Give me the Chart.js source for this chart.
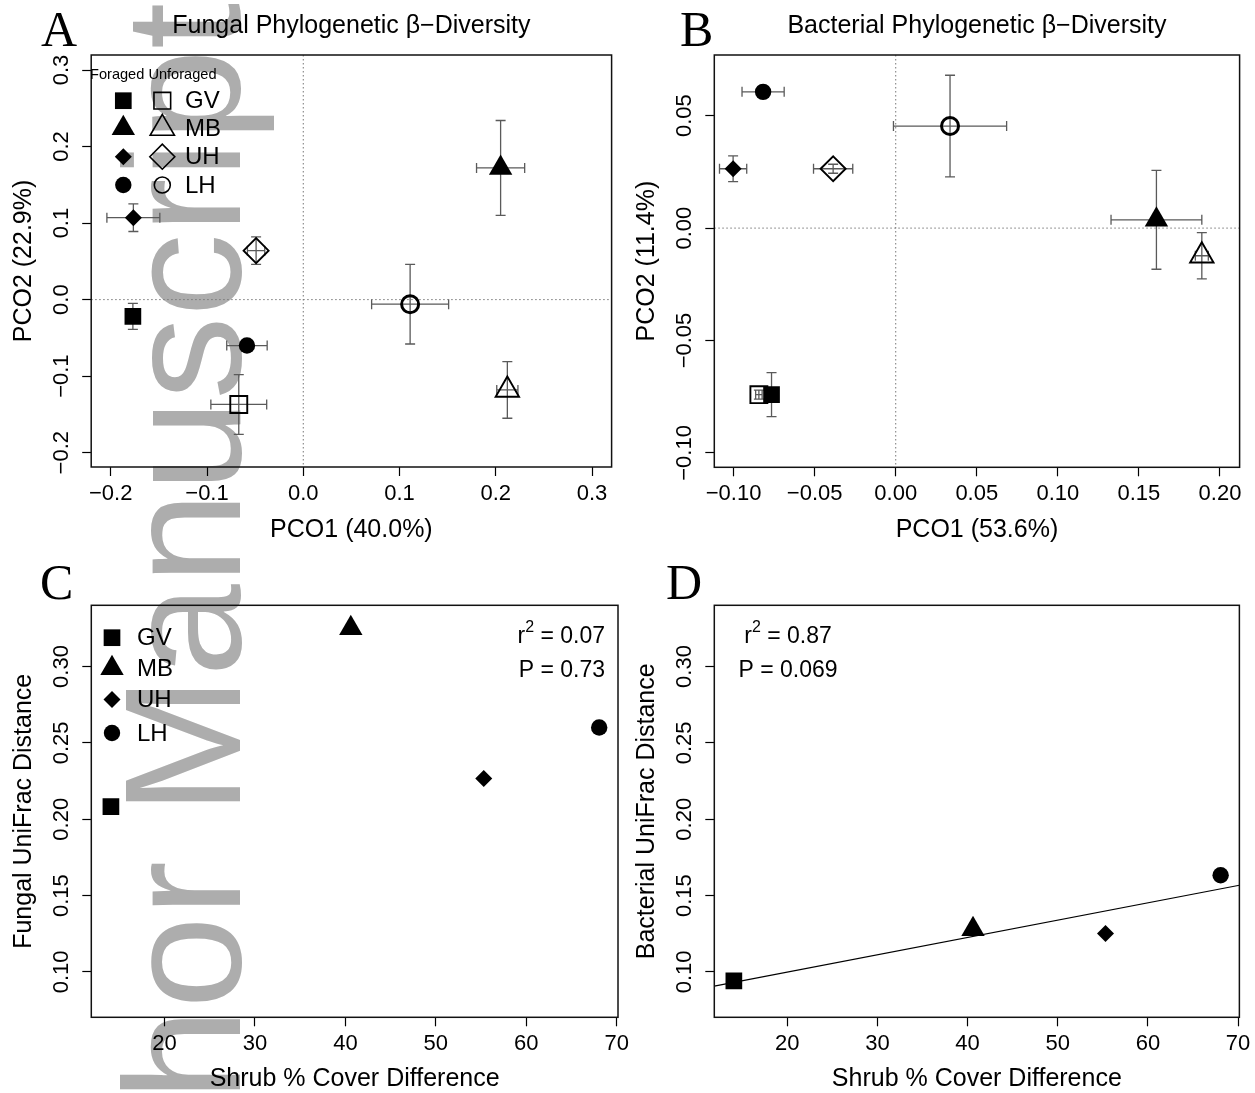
<!DOCTYPE html>
<html>
<head>
<meta charset="utf-8">
<title>Phylogenetic beta-diversity</title>
<script src="https://cdn.jsdelivr.net/npm/chart.js"></script>
<style>
  html, body { margin: 0; padding: 0; background: #fff; }
  #page { position: relative; width: 1255px; height: 1093px; overflow: hidden; background: #fff; }
  #page canvas { position: absolute; z-index: 1; }
  .watermark {
    position: absolute; left: 99.5px; top: 1349.6px; z-index: 0;
    transform-origin: 0 0; transform: rotate(-90deg);
    font-family: "Liberation Sans", Arial, sans-serif; font-size: 166px; line-height: 1;
    color: #adadad; white-space: nowrap;
  }
  .panel-letter {
    position: absolute; z-index: 2;
    font-family: "Liberation Serif", "Times New Roman", serif; font-size: 50px; line-height: 1; color: #000;
  }
</style>
</head>
<body>
<div id="page">
  <div class="watermark">Author Manuscript</div>
  <canvas id="chartA" width="627" height="548" style="left:0;top:0"></canvas>
  <canvas id="chartB" width="628" height="548" style="left:627px;top:0"></canvas>
  <canvas id="chartC" width="640" height="560" style="left:0;top:548px"></canvas>
  <canvas id="chartD" width="628" height="560" style="left:627px;top:548px"></canvas>
  <div class="panel-letter" style="left:41px;top:4px">A</div>
  <div class="panel-letter" style="left:680px;top:4px">B</div>
  <div class="panel-letter" style="left:40px;top:557px">C</div>
  <div class="panel-letter" style="left:666px;top:557px">D</div>
</div>
<script>
const SANS = '"Liberation Sans", Arial, Helvetica, sans-serif';

const sites = ["GV", "MB", "UH", "LH"];
const siteShapes = ["rect", "triangle", "rectRot", "circle"];

// A: fungal PCO scores (site means +/- se)
const fungForagedX      = [-0.177, 0.205, -0.1765, -0.0585];
const fungForagedY      = [-0.022, 0.172, 0.107, -0.060];
const fungForagedXErr   = [0.000, 0.025, 0.0275, 0.021];
const fungForagedYErr   = [0.017, 0.062, 0.018, 0.000];
const fungUnforagedX    = [-0.067, 0.212, -0.049, 0.111];
const fungUnforagedY    = [-0.137, -0.118, 0.064, -0.006];
const fungUnforagedXErr = [0.029, 0.011, 0.009, 0.040];
const fungUnforagedYErr = [0.039, 0.037, 0.018, 0.052];

// B: bacterial PCO scores
const bactForagedX      = [-0.0766, 0.1608, -0.1003, -0.0818];
const bactForagedY      = [-0.0741, 0.0037, 0.0264, 0.0606];
const bactForagedXErr   = [0.002, 0.028, 0.0084, 0.013];
const bactForagedYErr   = [0.0098, 0.022, 0.0057, 0.0015];
const bactUnforagedX    = [-0.0844, 0.1888, -0.0386, 0.0335];
const bactUnforagedY    = [-0.0741, -0.0123, 0.0264, 0.0454];
const bactUnforagedXErr = [0.002, 0.004, 0.0121, 0.0349];
const bactUnforagedYErr = [0.002, 0.0103, 0.002, 0.0226];

// C, D: distance vs shrub cover difference
const shrubCoverDiff   = [14.07, 40.6, 55.3, 68.07];
const fungalUniFrac    = [0.2082, 0.325, 0.2266, 0.2601];
const bacterialUniFrac = [0.0942, 0.128, 0.1252, 0.1633];
const fungStats = ["0.07", "0.73"];
const bactStats = ["0.87", "0.069"];

// tick labels
const fungTicksX = [-0.2, -0.1, 0.0, 0.1, 0.2, 0.3];
const fungTicksY = [-0.2, -0.1, 0.0, 0.1, 0.2, 0.3];
const bactTicksX = [-0.10, -0.05, 0.00, 0.05, 0.10, 0.15, 0.20];
const bactTicksY = [-0.10, -0.05, 0.00, 0.05];
const coverTicks = [20, 30, 40, 50, 60, 70];
const distTicks  = [0.10, 0.15, 0.20, 0.25, 0.30];

// marker sizes
const filledR = [11.8, 13.5, 8.5, 8.2];
const openR = [12, 13.5, 12.5, 8.5];
const openW = [1.9, 1.9, 1.9, 3];

const TICK_SIZE = 22;
const LAB_SIZE = 25;

function fmt(v, dec) {
  if (Math.abs(v) < 1e-9) v = 0;
  const s = Math.abs(v).toFixed(dec);
  return v < 0 ? "\u2212" + s : s;
}

const measureCtx = document.createElement("canvas").getContext("2d");
function widestLabel(ticks, dec) {
  measureCtx.font = TICK_SIZE + "px " + SANS;
  return Math.max(...ticks.map(v => measureCtx.measureText(fmt(v, dec)).width));
}

function drawSymbol(ctx, shape, x, y, r, filled, lw) {
  ctx.beginPath();
  if (shape === "rect") {
    const h = r * Math.SQRT1_2;
    ctx.rect(x - h, y - h, 2 * h, 2 * h);
  } else if (shape === "rectRot") {
    ctx.moveTo(x - r, y); ctx.lineTo(x, y - r); ctx.lineTo(x + r, y); ctx.lineTo(x, y + r);
    ctx.closePath();
  } else if (shape === "triangle") {
    for (let k = 0; k < 3; k++) {
      const a = k * 2 * Math.PI / 3;
      const px = x + Math.sin(a) * r, py = y - Math.cos(a) * r;
      if (k === 0) ctx.moveTo(px, py); else ctx.lineTo(px, py);
    }
    ctx.closePath();
  } else {
    ctx.arc(x, y, r, 0, Math.PI * 2);
  }
  if (filled) { ctx.fillStyle = "#000"; ctx.fill(); }
  else { ctx.lineWidth = lw; ctx.strokeStyle = "#000"; ctx.stroke(); }
}

function pcoDatasets(fx, fy, fxe, fye, ux, uy, uxe, uye) {
  const pts = (x, y, xe, ye) => x.map((v, i) => ({ x: v, y: y[i], xErr: xe[i], yErr: ye[i] }));
  return [
    { label: "Foraged", data: pts(fx, fy, fxe, fye), pointStyle: siteShapes, pointRadius: filledR,
      pointBackgroundColor: "#000", pointBorderColor: "#000", pointBorderWidth: 0 },
    { label: "Unforaged", data: pts(ux, uy, uxe, uye), pointStyle: siteShapes, pointRadius: openR,
      pointBackgroundColor: "rgba(0,0,0,0)", pointBorderColor: "#000", pointBorderWidth: openW }
  ];
}

function distDataset(ys) {
  return { label: "Distance", data: shrubCoverDiff.map((v, i) => ({ x: v, y: ys[i] })),
    pointStyle: siteShapes, pointRadius: filledR,
    pointBackgroundColor: "#000", pointBorderColor: "#000", pointBorderWidth: 0 };
}

function fitLine(xs, ys) {
  const n = xs.length;
  const mx = xs.reduce((a, b) => a + b, 0) / n, my = ys.reduce((a, b) => a + b, 0) / n;
  let sxy = 0, sxx = 0;
  xs.forEach((x, i) => { sxy += (x - mx) * (ys[i] - my); sxx += (x - mx) * (x - mx); });
  const slope = sxy / sxx;
  return { slope, intercept: my - slope * mx };
}

// error bars drawn under the markers
const errorBars = {
  id: "errorBars",
  beforeDatasetsDraw(chart) {
    const { ctx, scales: { x, y } } = chart;
    const cap = 5;
    ctx.save();
    ctx.strokeStyle = "#5a5a5a";
    ctx.lineWidth = 1.3;
    chart.data.datasets.forEach(ds => ds.data.forEach(p => {
      if (p.xErr === undefined) return;
      const px = x.getPixelForValue(p.x), py = y.getPixelForValue(p.y);
      ctx.beginPath();
      if (p.xErr > 0) {
        const x0 = x.getPixelForValue(p.x - p.xErr), x1 = x.getPixelForValue(p.x + p.xErr);
        ctx.moveTo(x0, py); ctx.lineTo(x1, py);
        ctx.moveTo(x0, py - cap); ctx.lineTo(x0, py + cap);
        ctx.moveTo(x1, py - cap); ctx.lineTo(x1, py + cap);
      }
      if (p.yErr > 0) {
        const y0 = y.getPixelForValue(p.y - p.yErr), y1 = y.getPixelForValue(p.y + p.yErr);
        ctx.moveTo(px, y0); ctx.lineTo(px, y1);
        ctx.moveTo(px - cap, y0); ctx.lineTo(px + cap, y0);
        ctx.moveTo(px - cap, y1); ctx.lineTo(px + cap, y1);
      }
      ctx.stroke();
    }));
    ctx.restore();
  }
};

const zeroLines = {
  id: "zeroLines",
  beforeDatasetsDraw(chart) {
    const { ctx, chartArea: a, scales: { x, y } } = chart;
    const x0 = x.getPixelForValue(0), y0 = y.getPixelForValue(0);
    ctx.save();
    ctx.strokeStyle = "#777";
    ctx.lineWidth = 1;
    ctx.setLineDash([1.5, 2.5]);
    ctx.beginPath();
    ctx.moveTo(x0, a.top); ctx.lineTo(x0, a.bottom);
    ctx.moveTo(a.left, y0); ctx.lineTo(a.right, y0);
    ctx.stroke();
    ctx.restore();
  }
};

const frame = {
  id: "frame",
  afterDatasetsDraw(chart) {
    const { ctx, chartArea: a } = chart;
    ctx.save();
    ctx.strokeStyle = "#111";
    ctx.lineWidth = 1.5;
    ctx.strokeRect(a.left, a.top, a.right - a.left, a.bottom - a.top);
    ctx.restore();
  }
};

const legendA = {
  id: "legendA",
  afterDraw(chart) {
    const ctx = chart.ctx;
    const rows = [100.7, 128.3, 156.7, 185];
    const legendOpenR = [11.8, 14, 12.5, 8];
    ctx.save();
    ctx.fillStyle = "#000";
    ctx.font = "14.6px " + SANS;
    ctx.textBaseline = "alphabetic";
    ctx.fillText("Foraged Unforaged", 90, 79);
    ctx.font = "24px " + SANS;
    ctx.textBaseline = "middle";
    sites.forEach((s, i) => {
      drawSymbol(ctx, siteShapes[i], 123.3, rows[i], filledR[i], true, 0);
      drawSymbol(ctx, siteShapes[i], 162.3, rows[i], legendOpenR[i], false, 1.6);
      ctx.fillStyle = "#000";
      ctx.fillText(s, 185, rows[i] + 1);
    });
    ctx.restore();
  }
};

const legendC = {
  id: "legendC",
  afterDraw(chart) {
    const ctx = chart.ctx;
    const rows = [89.7, 120.3, 151.6, 185];
    ctx.save();
    ctx.font = "24px " + SANS;
    ctx.textBaseline = "middle";
    sites.forEach((s, i) => {
      drawSymbol(ctx, siteShapes[i], 112, rows[i], filledR[i], true, 0);
      ctx.fillStyle = "#000";
      ctx.fillText(s, 137, rows[i] + 1);
    });
    ctx.restore();
  }
};

function statsPlugin(vals, x, align) {
  return {
    id: "stats",
    afterDraw(chart) {
      const ctx = chart.ctx;
      const main = "23px " + SANS, sup = "16px " + SANS;
      const lines = [
        [{ t: "r", f: main, dy: 0 }, { t: "2", f: sup, dy: -9 }, { t: " = " + vals[0], f: main, dy: 0 }],
        [{ t: "P = " + vals[1], f: main, dy: 0 }]
      ];
      const rowsY = [89, 122.5];
      ctx.save();
      ctx.fillStyle = "#000";
      ctx.textBaseline = "middle";
      lines.forEach((parts, li) => {
        let w = 0;
        parts.forEach(p => { ctx.font = p.f; w += ctx.measureText(p.t).width; });
        let cx = align === "right" ? x - w : align === "center" ? x - w / 2 : x;
        parts.forEach(p => {
          ctx.font = p.f;
          ctx.fillText(p.t, cx, rowsY[li] + p.dy);
          cx += ctx.measureText(p.t).width;
        });
      });
      ctx.restore();
    }
  };
}

const tickGrid = { display: true, drawOnChartArea: false, drawTicks: true, tickLength: 9, tickColor: "#000", tickWidth: 1.2 };
const Y_LABEL_GAP = 29.5;

function makeChart(id, cfg) {
  const canvas = document.getElementById(id);
  const W = canvas.width, H = canvas.height;
  const a = cfg.area;
  const yPad = Y_LABEL_GAP - 9 - widestLabel(cfg.yTicks, cfg.yDec) / 2;
  const xPad = 26.9 - 9 - TICK_SIZE * 0.6;
  return new Chart(canvas, {
    type: "scatter",
    data: { datasets: cfg.datasets },
    options: {
      responsive: false,
      animation: false,
      devicePixelRatio: 1,
      events: [],
      layout: { padding: { left: 0, right: W - a.right, top: cfg.title ? 0 : a.top, bottom: 0 } },
      plugins: {
        legend: { display: false },
        tooltip: { enabled: false },
        title: cfg.title ? {
          display: true, text: cfg.title, fullSize: false, color: "#000",
          font: { family: SANS, size: 25, weight: "normal" },
          padding: { top: 11, bottom: a.top - 11 - 30 }
        } : { display: false }
      },
      scales: {
        x: {
          type: "linear", position: "bottom",
          min: cfg.xRange[0], max: cfg.xRange[1],
          afterBuildTicks: s => { s.ticks = cfg.xTicks.map(v => ({ value: v })); },
          afterFit: s => { s.height = H - a.bottom; },
          ticks: {
            font: { family: SANS, size: TICK_SIZE }, color: "#000", padding: xPad,
            minRotation: 0, maxRotation: 0, autoSkip: false,
            callback: v => fmt(v, cfg.xDec)
          },
          grid: tickGrid,
          border: { display: false },
          title: {
            display: true, text: cfg.xTitle, color: "#000",
            font: { family: SANS, size: LAB_SIZE },
            padding: { top: 0, bottom: H - cfg.xTitleY - LAB_SIZE * 0.6 }
          }
        },
        y: {
          type: "linear", position: "left",
          min: cfg.yRange[0], max: cfg.yRange[1],
          afterBuildTicks: s => { s.ticks = cfg.yTicks.map(v => ({ value: v })); },
          afterFit: s => { s.width = a.left; },
          ticks: {
            font: { family: SANS, size: TICK_SIZE }, color: "#000", padding: yPad,
            minRotation: 90, maxRotation: 90, crossAlign: "center", autoSkip: false,
            callback: v => fmt(v, cfg.yDec)
          },
          grid: tickGrid,
          border: { display: false },
          title: {
            display: true, text: cfg.yTitle, color: "#000",
            font: { family: SANS, size: LAB_SIZE },
            padding: { top: a.left - 67 - LAB_SIZE * 0.6, bottom: 0 }
          }
        }
      }
    },
    plugins: [errorBars, frame].concat(cfg.extra || [])
  });
}

// A
makeChart("chartA", {
  title: "Fungal Phylogenetic \u03B2\u2212Diversity",
  area: { left: 91.2, right: 619, top: 55, bottom: 467 },
  xRange: [-0.2203, 0.3203], yRange: [-0.2187, 0.3196],
  xTicks: fungTicksX, yTicks: fungTicksY, xDec: 1, yDec: 1,
  xTitle: "PCO1 (40.0%)", yTitle: "PCO2 (22.9%)", xTitleY: 530,
  datasets: pcoDatasets(fungForagedX, fungForagedY, fungForagedXErr, fungForagedYErr,
    fungUnforagedX, fungUnforagedY, fungUnforagedXErr, fungUnforagedYErr),
  extra: [zeroLines, legendA]
});

// B
makeChart("chartB", {
  title: "Bacterial Phylogenetic \u03B2\u2212Diversity",
  area: { left: 87.3, right: 614, top: 55, bottom: 467.3 },
  xRange: [-0.1119, 0.2121], yRange: [-0.1064, 0.0770],
  xTicks: bactTicksX, yTicks: bactTicksY, xDec: 2, yDec: 2,
  xTitle: "PCO1 (53.6%)", yTitle: "PCO2 (11.4%)", xTitleY: 530,
  datasets: pcoDatasets(bactForagedX, bactForagedY, bactForagedXErr, bactForagedYErr,
    bactUnforagedX, bactUnforagedY, bactUnforagedXErr, bactUnforagedYErr),
  extra: [zeroLines]
});

const coverRange = [11.9, 70.15];
const distRange = [0.0703, 0.3401];

// C
makeChart("chartC", {
  area: { left: 91.3, right: 618, top: 57.3, bottom: 469.3 },
  xRange: coverRange, yRange: distRange,
  xTicks: coverTicks, yTicks: distTicks, xDec: 0, yDec: 2,
  xTitle: "Shrub % Cover Difference", yTitle: "Fungal UniFrac Distance", xTitleY: 531.5,
  datasets: [distDataset(fungalUniFrac)],
  extra: [legendC, statsPlugin(fungStats, 605, "right")]
});

// D
const bactFit = fitLine(shrubCoverDiff, bacterialUniFrac);
makeChart("chartD", {
  area: { left: 87.3, right: 614, top: 57.3, bottom: 469.3 },
  xRange: coverRange, yRange: distRange,
  xTicks: coverTicks, yTicks: distTicks, xDec: 0, yDec: 2,
  xTitle: "Shrub % Cover Difference", yTitle: "Bacterial UniFrac Distance", xTitleY: 531.5,
  datasets: [
    distDataset(bacterialUniFrac),
    { type: "line", label: "Fit", showLine: true, pointRadius: 0, borderColor: "#000", borderWidth: 1.2,
      data: coverRange.map(x => ({ x, y: bactFit.intercept + bactFit.slope * x })) }
  ],
  extra: [statsPlugin(bactStats, 161, "center")]
});
</script>
</body>
</html>
